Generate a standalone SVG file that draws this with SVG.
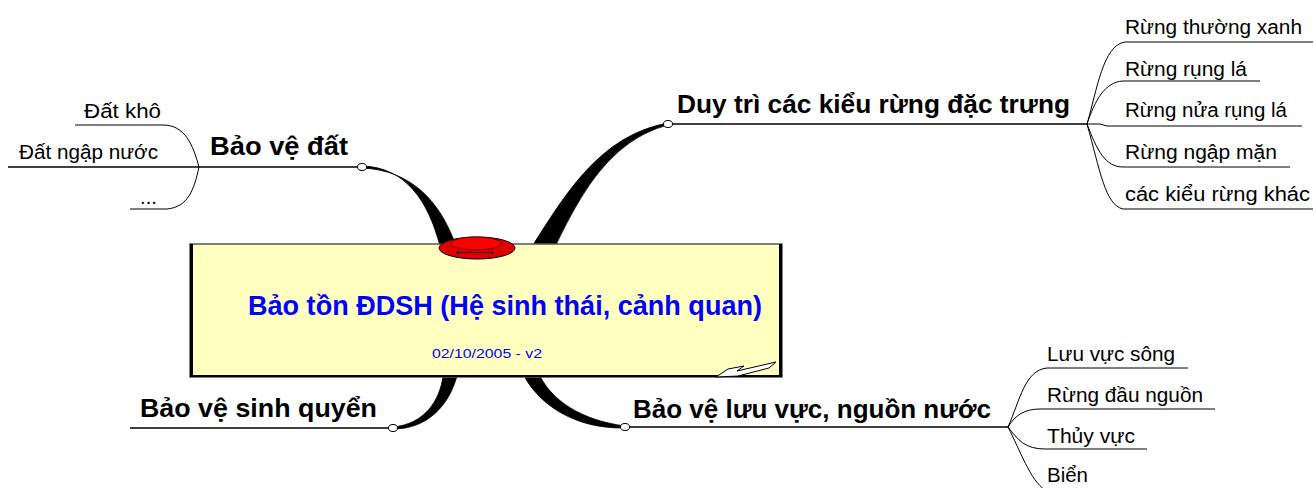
<svg xmlns="http://www.w3.org/2000/svg" width="1314" height="488" viewBox="0 0 1314 488">
<style>
.sub{font-family:"Liberation Sans",Arial,sans-serif;font-size:20px;fill:#000}
.main{font-family:"Liberation Sans",Arial,sans-serif;font-size:26px;font-weight:bold;fill:#000}
.ln{fill:none;stroke:#000;stroke-width:1.3}
.thin{fill:none;stroke:#000;stroke-width:1}
.thick{fill:#000;stroke:#000;stroke-width:0.8}
.dot{fill:#fff;stroke:#000;stroke-width:1}
</style>
<rect width="1314" height="488" fill="#fff"/>
<g id="connectors">
<path class="thick" d="M362,166 C405,167 428,200 440,246 L456,246 C440,200 410,170 362,168 Z"/>
<path class="thick" d="M533,245 C565,195 600,135 668,123 L668,125 C610,140 580,195 556,245 Z"/>
<path class="thick" d="M443,376 C440,400 425,424 393,427 L393,429 C428,429 449,405 457,376 Z"/>
<path class="thick" d="M540,376 C552,400 580,420 625,426 L625,428 C575,429 540,405 524,376 Z"/>
<path class="ln" d="M8,167 H360"/>
<path class="ln" d="M670,124 H1087"/>
<path class="ln" d="M130,428 H391"/>
<path class="ln" d="M627,427 H1008"/>
<path class="thin" d="M75,125 H163 C185,125 193,145 199,167"/>
<path class="thin" d="M130,209 H167 C188,207 194,190 199,167"/>
<path class="thin" d="M1087,124 C1097,90 1103,45 1125,42 H1313"/>
<path class="thin" d="M1087,124 C1095,100 1105,82 1123,81 H1260"/>
<path class="thin" d="M1087,124 L1100,124 L1107,126 H1302"/>
<path class="thin" d="M1087,124 C1097,150 1105,167 1123,167 H1290"/>
<path class="thin" d="M1087,124 C1100,170 1105,205 1123,209 H1313"/>
<path class="thin" d="M1008,427 C1020,400 1025,370 1047,368 H1188"/>
<path class="thin" d="M1008,427 C1015,415 1025,409 1040,409 H1215"/>
<path class="thin" d="M1008,427 C1018,440 1025,449 1045,449 H1147"/>
<path class="thin" d="M1008,427 C1020,450 1030,480 1045,490"/>
</g>
<g id="center">
<rect x="190" y="244" width="592" height="133" fill="#FFFFC0" stroke="#555" stroke-width="1.5"/>
<line x1="191.5" y1="244" x2="191.5" y2="377" stroke="#000" stroke-width="3"/>
<line x1="780.5" y1="244" x2="780.5" y2="377" stroke="#000" stroke-width="3"/>
<line x1="190" y1="376" x2="782" y2="376" stroke="#000" stroke-width="2"/>
<path d="M716,377 L728,369 L744,366 L737,371 L776,362 L769,368 L738,376 Z" fill="#fff" stroke="#000" stroke-width="1"/>
<ellipse cx="477" cy="248" rx="38" ry="11" fill="#E00000" stroke="#000" stroke-width="1"/>
<ellipse cx="476" cy="243.5" rx="25" ry="6.5" fill="#FF0000" stroke="#600" stroke-width="1"/>
<line x1="456" y1="252.5" x2="494" y2="252.5" stroke="#400" stroke-width="1"/>
<circle cx="458" cy="252.5" r="1.3" fill="#000"/>
<circle cx="492" cy="252.5" r="1.3" fill="#000"/>
<text x="248" y="315" font-family="Liberation Sans, Arial, sans-serif" font-size="28" font-weight="bold" fill="#0000FF" textLength="514" lengthAdjust="spacingAndGlyphs">Bảo tồn ĐDSH (Hệ sinh thái, cảnh quan)</text>
<text x="432" y="358" font-family="Liberation Sans, Arial, sans-serif" font-size="13" fill="#0000FF" textLength="110" lengthAdjust="spacingAndGlyphs">02/10/2005 - v2</text>
</g>
<g id="node-bao-ve-dat">
<text class="main" x="210" y="155" textLength="138" lengthAdjust="spacingAndGlyphs">Bảo vệ đất</text>
<ellipse class="dot" cx="362" cy="167" rx="4.5" ry="3.5"/>
</g>
<g id="node-dat-kho"><text class="sub" x="84" y="118" textLength="77" lengthAdjust="spacingAndGlyphs">Đất khô</text></g>
<g id="node-dat-ngap-nuoc"><text class="sub" x="19" y="159" textLength="139" lengthAdjust="spacingAndGlyphs">Đất ngập nước</text></g>
<g id="node-etc"><text class="sub" x="140" y="204" textLength="17" lengthAdjust="spacingAndGlyphs">...</text></g>
<g id="node-duy-tri">
<text class="main" x="677" y="113" textLength="393" lengthAdjust="spacingAndGlyphs">Duy trì các kiểu rừng đặc trưng</text>
<ellipse class="dot" cx="668" cy="124" rx="4.5" ry="3.5"/>
</g>
<g id="node-rung-thuong-xanh"><text class="sub" x="1125" y="34" textLength="177" lengthAdjust="spacingAndGlyphs">Rừng thường xanh</text></g>
<g id="node-rung-rung-la"><text class="sub" x="1125" y="76" textLength="122" lengthAdjust="spacingAndGlyphs">Rừng rụng lá</text></g>
<g id="node-rung-nua-rung-la"><text class="sub" x="1125" y="117" textLength="162" lengthAdjust="spacingAndGlyphs">Rừng nửa rụng lá</text></g>
<g id="node-rung-ngap-man"><text class="sub" x="1125" y="159" textLength="152" lengthAdjust="spacingAndGlyphs">Rừng ngập mặn</text></g>
<g id="node-cac-kieu-rung-khac"><text class="sub" x="1125" y="201" textLength="185" lengthAdjust="spacingAndGlyphs">các kiểu rừng khác</text></g>
<g id="node-sinh-quyen">
<text class="main" x="140" y="417" textLength="237" lengthAdjust="spacingAndGlyphs">Bảo vệ sinh quyển</text>
<ellipse class="dot" cx="393" cy="428" rx="4.5" ry="3.5"/>
</g>
<g id="node-luu-vuc">
<text class="main" x="633" y="418" textLength="358" lengthAdjust="spacingAndGlyphs">Bảo vệ lưu vực, nguồn nước</text>
<ellipse class="dot" cx="625" cy="427" rx="4.5" ry="3.5"/>
</g>
<g id="node-luu-vuc-song"><text class="sub" x="1047" y="361" textLength="128" lengthAdjust="spacingAndGlyphs">Lưu vực sông</text></g>
<g id="node-rung-dau-nguon"><text class="sub" x="1047" y="402" textLength="156" lengthAdjust="spacingAndGlyphs">Rừng đầu nguồn</text></g>
<g id="node-thuy-vuc"><text class="sub" x="1047" y="443" textLength="88" lengthAdjust="spacingAndGlyphs">Thủy vực</text></g>
<g id="node-bien"><text class="sub" x="1047" y="482" textLength="41" lengthAdjust="spacingAndGlyphs">Biển</text></g>
</svg>
